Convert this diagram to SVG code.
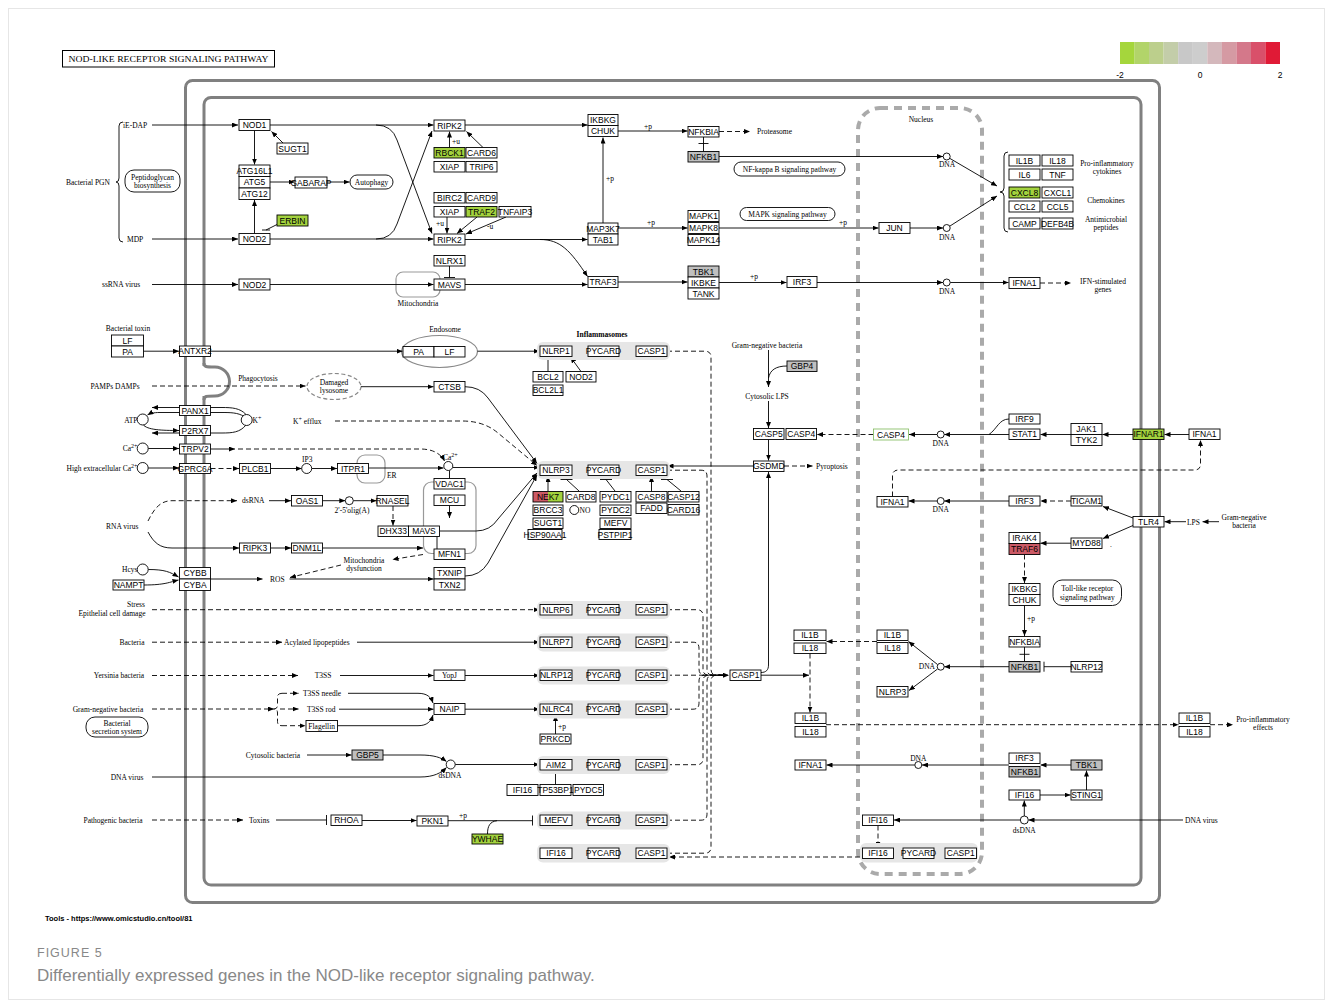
<svg xmlns="http://www.w3.org/2000/svg" width="1333" height="1008" viewBox="0 0 1333 1008">
<style>
.n rect{fill:#fff;stroke:#000;stroke-width:0.9}
.n text,.s{font-family:"Liberation Sans",Arial,sans-serif;font-size:8.5px;text-anchor:middle;fill:#000}
.n rect.g{fill:#a3d23e}
.n rect.r{fill:#cc5a66}
.n rect.y{fill:#bfbfbf}
.n rect.bg{fill:#e6e6e6;stroke:none}
.n rect.p{fill:#fff;stroke:#000;stroke-width:0.9}
.n circle{fill:#fff;stroke:#000;stroke-width:0.9}
.l,.n text.l{font-family:"Liberation Serif","Times New Roman",serif;font-size:7.5px;fill:#000;text-anchor:start}
.m,.n text.m{text-anchor:middle}
.e,.n text.e{text-anchor:end}
#connectors path{fill:none;stroke:#000;stroke-width:0.9}
#connectors path.d{stroke-dasharray:5 3}
#connectors path.a{marker-end:url(#ah)}
.mem{fill:none;stroke:#808080;stroke-width:3}
</style>
<defs>
<marker id="ah" viewBox="0 0 6 5" refX="6" refY="2.5" markerWidth="6" markerHeight="5" orient="auto" markerUnits="userSpaceOnUse"><path d="M0,0L6,2.5L0,5z" fill="#000"/></marker>
</defs>
<rect x="0" y="0" width="1333" height="1008" fill="#fff"/>
<rect x="8.5" y="8.5" width="1316" height="991" fill="none" stroke="#e6e6e6" stroke-width="1"/>

<!-- header -->
<g id="title">
<rect x="62.5" y="50.5" width="212" height="16.5" fill="#fff" stroke="#000" stroke-width="1"/>
<text x="168.5" y="62" class="l m" font-size="8.5" textLength="200" lengthAdjust="spacingAndGlyphs">NOD-LIKE RECEPTOR SIGNALING PATHWAY</text>
</g>
<g id="legend">
<rect x="1120" y="42" width="14.6" height="22" fill="#a5d63c"/>
<rect x="1134.5" y="42" width="14.6" height="22" fill="#b2d46a"/>
<rect x="1149" y="42" width="14.6" height="22" fill="#bccf8c"/>
<rect x="1163.6" y="42" width="14.6" height="22" fill="#c3cda9"/>
<rect x="1178.2" y="42" width="14.6" height="22" fill="#c8c8c8"/>
<rect x="1192.7" y="42" width="14.6" height="22" fill="#cdcdcd"/>
<rect x="1207.3" y="42" width="14.6" height="22" fill="#d4b8bc"/>
<rect x="1221.8" y="42" width="14.6" height="22" fill="#d59aa3"/>
<rect x="1236.4" y="42" width="14.6" height="22" fill="#d4788a"/>
<rect x="1251" y="42" width="14.6" height="22" fill="#d9506a"/>
<rect x="1265.5" y="42" width="14.5" height="22" fill="#e01a36"/>
<text x="1120" y="78" class="s" font-size="7.5">-2</text>
<text x="1200" y="78" class="s" font-size="7.5">0</text>
<text x="1280" y="78" class="s" font-size="7.5">2</text>
</g>

<!-- membranes and compartments -->
<g id="membrane">
<rect class="mem" x="185.5" y="80.5" width="974" height="822" rx="7"/>
<rect class="mem" x="204" y="97.5" width="937" height="787.5" rx="7"/>
<rect x="201" y="366" width="6" height="30" fill="#fff"/>
<path class="mem" d="M204,363 C204,367 206,367 215,367 A14.5,14.5 0 0 1 215,396 C206,396 204,396 204,400"/>
</g>
<g id="nucleus">
<rect x="858" y="108" width="124" height="766" rx="22" fill="none" stroke="#aaaaaa" stroke-width="4" stroke-dasharray="8 6"/>
<text x="921" y="122" class="l m">Nucleus</text>
</g>

<!-- compartment outlines -->
<g id="mito1"><rect x="396" y="272" width="44" height="25" rx="7" fill="none" stroke="#999" stroke-width="1.2"/></g>
<g id="endosome"><ellipse cx="439.5" cy="351.5" rx="38" ry="16" fill="none" stroke="#888" stroke-width="1.2"/></g>
<g id="lysosome"><ellipse cx="334" cy="386.5" rx="27" ry="13" fill="none" stroke="#888" stroke-width="1.2" stroke-dasharray="4 2.5"/></g>
<g id="er"><rect x="357" y="455" width="28" height="28" rx="8" fill="none" stroke="#999" stroke-width="1.2"/></g>
<g id="mito2"><rect x="423.5" y="482" width="52.5" height="71.5" rx="8" fill="none" stroke="#999" stroke-width="1.2"/></g>

<!-- connectors -->
<g id="connectors">
<path class="a" d="M152,125 H238"/>
<path class="a" d="M283,143 L271.5,131.5"/>
<path class="a" d="M254.5,130.5 V164.5"/>
<path class="a" d="M270,182 H294.5"/>
<path class="a" d="M327,182 H349.5"/>
<path class="a" d="M254.5,233.5 V200"/>
<path d="M278,224 L266,230 M262,230 H270"/>
<path class="a" d="M152,239 H238"/>
<path class="a" d="M270,125 H433.5"/>
<path class="a" d="M270,239 H433.5"/>
<path class="a" d="M376,125 Q392,125 397,140 L432,233.5"/>
<path class="a" d="M376,239 Q392,239 397,224 L432,131"/>
<path class="a" d="M449.5,147.5 V131.5"/>
<path class="a" d="M483,147.5 L466.5,131.5"/>
<path class="a" d="M447,217 V233.5"/>
<path class="a" d="M477,217 L457,233.5"/>
<path class="a" d="M506,217 L466,234"/>
<path d="M449.5,266 V277.5 M444,277.5 H455"/>
<path class="a" d="M152,284.5 H238"/>
<path class="a" d="M270,284.5 H433.5"/>
<path class="a" d="M465,125 H587.5"/>
<path class="a" d="M465,239.5 H587.5"/>
<path class="a" d="M603,223 V137.5"/>
<path class="a" d="M618,131 H687.5"/>
<path class="a" d="M540,239.5 C560,239.5 570,250 587.5,276.5"/>
<path class="a" d="M465,284.5 H587.5"/>
<path class="a" d="M618,228 H687.5"/>
<path class="a" d="M618,282 H687.5"/>
<path class="a d" d="M719,131.5 H750"/>
<path d="M703.5,137 V151.5 M698.5,143.5 H708.5"/>
<path class="a" d="M719,156.5 H943"/>
<path class="a" d="M719,228 H878.5"/>
<path class="a" d="M910,228 H943"/>
<path class="a" d="M719,282.5 H786.5"/>
<path class="a" d="M817,282.5 H943"/>
<path class="a" d="M950.2,282.5 H1008.5"/>
<path class="a" d="M950,158.5 L997,186"/>
<path class="a" d="M950,226 L997,196"/>
<path d="M1008,152 Q1004,152 1004,156 V188 Q1004,192 1000,192 Q1004,192 1004,196 V228 Q1004,232 1008,232"/>
<path class="a d" d="M1040,283 H1071"/>
<path d="M123,122 Q119,122 119,126 V178 Q119,182 116,182 Q119,182 119,186 V238 Q119,242 123,242"/>
<path class="a" d="M143.5,351.2 H179"/>
<path class="a" d="M210.5,351.2 H402.5"/>
<path class="a" d="M477.5,351.2 H539.5"/>
<path d="M572,351.2 H588 M619,351.2 H636"/>
<path d="M548,371.5 V357.5 M543,357.5 H553"/>
<path class="a" d="M581,371.5 L570.5,357"/>
<path class="a d" d="M152,386 H305.5"/>
<path class="a" d="M361,386.7 H433.5"/>
<path class="a" d="M465,386.7 Q480,386.7 488,398 L537,463.5"/>
<path class="a d" d="M335,421 H462 Q484,421 498,433 L537,465.5"/>
<path class="a" d="M246,414.5 C240,408 232,407.5 222,407.5 H152"/>
<path class="a" d="M244,416.5 C238,412.5 230,412.5 222,412.5 H160 C153,412.5 150,413.5 147.5,415"/>
<path class="a" d="M143,424.5 C147,430 162,430.5 179,430.5"/>
<path class="a" d="M246,425 C240,432.5 232,433 222,433 H152"/>
<path class="a" d="M148.2,448.5 H179"/>
<path class="a" d="M210.5,449 H235"/>
<path class="a d" d="M238,449 H420 Q438,449 444.5,461"/>
<path class="a" d="M148.2,468 H179"/>
<path class="a d" d="M210.5,468.5 H239"/>
<path class="a" d="M270.5,468.5 H301.7"/>
<path class="a" d="M311.7,468.5 H337"/>
<path class="a" d="M368.5,468 H443.5"/>
<path class="a" d="M453,467.5 H539.5"/>
<path d="M449.5,478.5 V470.5"/>
<path class="a" d="M449.5,505.5 V518"/>
<path class="a" d="M269,500.7 H291"/>
<path class="a" d="M322.5,500.7 H345.3"/>
<path class="a" d="M353.3,500.7 H376.5"/>
<path class="a d" d="M393,506 V525.5"/>
<path class="a" d="M439.5,531 H476 Q490,531 498,519 L537,473"/>
<path d="M437,536.5 V549"/>
<path class="a d" d="M148,521 C154,509 160,500.7 172,500.7 H237"/>
<path class="a" d="M148,532 C154,543 160,548 172,548 H239"/>
<path class="a" d="M270.5,548 H291"/>
<path class="a" d="M322.5,548 H423"/>
<path class="a d" d="M423,554.5 L392.5,559.5"/>
<path class="a d" d="M341,565 L290,577.5"/>
<path class="a" d="M148.2,569.5 C165,569.5 170,572 178.5,577"/>
<path class="a" d="M144,585 C165,585 170,582 178.5,580"/>
<path class="a" d="M210.5,579 H262.5"/>
<path class="a" d="M289.5,579 H433.5"/>
<path class="a" d="M465,576 Q480,576 488,563 L537,475"/>
<path d="M572,470.2 H588 M619,470.2 H636"/>
<path class="a" d="M548,491.5 V476"/>
<path d="M579,491 L566.5,479.5 M560.5,479.5 H572.5"/>
<path d="M615,491 L606,479.5 M600,479.5 H612"/>
<path class="a" d="M651.5,491.5 V476"/>
<path d="M681,491 L667,479.5 M661,479.5 H673"/>
<path class="a" d="M753.5,466 H667.5"/>
<path class="a" d="M768.5,350 V387"/>
<path d="M787,366 C776,366 770,370 768.5,378"/>
<path class="a" d="M768.5,401 V428"/>
<path class="a" d="M768.5,439.5 V460.5"/>
<path class="a d" d="M784,466 H812.5"/>
<path class="a d" d="M873.5,434.5 H817"/>
<path class="a" d="M937.2,434.5 H909"/>
<path class="a" d="M1009,434.5 H944.2"/>
<path d="M1009,419 C999,419 997,429 989,434.5"/>
<path class="a" d="M1071,434.5 H1040.5"/>
<path class="a" d="M1133,434.5 H1102.5"/>
<path class="a" d="M1189,434.5 H1164.5"/>
<path class="a d" d="M892.5,496.5 V476 Q892.5,470 898.5,470 H1194.5 Q1200.5,470 1200.5,464 V440"/>
<path class="a" d="M1009,501 H944.2"/>
<path class="a" d="M937.2,501 H908.5"/>
<path class="a d" d="M1071,501 H1040.5"/>
<path class="a" d="M1133,518 L1103,506.5"/>
<path class="a" d="M1133,525.5 L1103,538.5"/>
<path class="a" d="M1186,521.7 H1164.5"/>
<path class="a" d="M1219,521.7 H1202.5"/>
<path class="a" d="M1071,543.2 H1040.5"/>
<path class="a d" d="M1024.5,554.5 V583"/>
<path class="a" d="M1024.5,605.5 V636"/>
<path d="M1024.5,647 V661.5 M1019.5,654.3 H1029.5"/>
<path d="M1071,666.7 H1044 M1044,661.7 V671.7"/>
<path class="a" d="M1009,666.7 H944.2"/>
<path class="a" d="M937.5,664.5 L908.5,641.5"/>
<path class="a" d="M937.5,669 L909,690.5"/>
<path class="a d" d="M877,641.5 H826.5"/>
<path class="a d" d="M810,653.5 V712.5"/>
<path class="a" d="M761,675.2 H809"/>
<path class="a" d="M761,672.5 C766,672.5 768.5,670 768.5,665 V472"/>
<path class="a d" d="M826,724.7 H1178.5"/>
<path class="a d" d="M1210,724.7 H1233"/>
<path class="a" d="M1009,765 H922"/>
<path class="a" d="M914.8,765 H826.5"/>
<path class="a" d="M1071,765 H1040.5"/>
<path class="a" d="M1040,795 H1070.5"/>
<path class="a" d="M1086.5,790 V770.5"/>
<path class="a" d="M1024.3,816 V800.5"/>
<path class="a" d="M1183,820 H1028.5"/>
<path class="a" d="M1020.3,820 H894"/>
<path class="a d" d="M878,825.5 V847.5"/>
<path d="M893.5,853.2 H903 M934,853.2 H945"/>
<path class="a d" d="M152,609.7 H539.5"/>
<path class="a d" d="M152,642.2 H282"/>
<path class="a" d="M357,642.2 H539.5"/>
<path class="a d" d="M152,675.5 H298"/>
<path class="a" d="M340,675.5 H433.5"/>
<path class="a" d="M465,675.5 H539.5"/>
<path class="a d" d="M152,709 H274"/>
<path class="d" d="M282,693.3 Q277.5,693.3 277.5,697 V705 Q277.5,709 274,709 Q277.5,709 277.5,713 V721.5 Q277.5,725.7 282,725.7"/>
<path class="a d" d="M282,693.3 H298.5"/>
<path class="a d" d="M280,709 H298.5"/>
<path class="a d" d="M282,725.7 H305.5"/>
<path class="a" d="M348,693.3 H418 C427,693.3 431,697 433,703"/>
<path class="a" d="M339,709.2 H433.5"/>
<path class="a" d="M338,725.7 H418 C427,725.7 431,721.5 433,715"/>
<path class="a" d="M465,709.2 H539.5"/>
<path class="a" d="M555.5,734 V715"/>
<path class="a" d="M307,755 H351.5"/>
<path class="a" d="M383,755 H420 C434,755 441,757.5 446.5,761.5"/>
<path class="a" d="M152,777 H420 C434,777 441,773 446.5,767.5"/>
<path class="a" d="M455.2,764.5 H539.5"/>
<path d="M555.5,784.5 V772.5 M550,772.5 H561"/>
<path class="a d" d="M152,820 H243"/>
<path d="M276,820 H326.5 M326.5,815 V825"/>
<path class="a" d="M361.5,820.5 H416.5"/>
<path d="M448,820.7 H532.5 M532.5,815.5 V825.5"/>
<path d="M487.5,834 C487.5,826 490,821.5 497,820.7"/>
<path d="M572,609.7 H588 M619,609.7 H636 M572,642.2 H588 M619,642.2 H636 M572,675.2 H588 M619,675.2 H636 M572,709.2 H588 M619,709.2 H636 M572,764.7 H588 M619,764.7 H636 M572,820.2 H588 M619,820.2 H636 M572,853.2 H588 M619,853.2 H636"/>
<path class="d" d="M667,351.2 H705 Q711,351.2 711,357 V669 Q711,675.2 717,675.2 H726"/>
<path class="d" d="M667,470.2 H701 Q707,470.2 707,476 V669 Q707,675.2 713,675.2 H726"/>
<path class="d" d="M667,609.7 H697 Q703,609.7 703,615.7 V669 Q703,675.2 709,675.2 H726"/>
<path class="d" d="M667,642.2 H693 Q699,642.2 699,648.2 V669 Q699,675.2 705,675.2 H726"/>
<path class="a d" d="M667,675.2 H729"/>
<path class="d" d="M667,709.2 H693 Q699,709.2 699,703.2 V681 Q699,675.2 705,675.2 H726"/>
<path class="d" d="M667,764.7 H697 Q703,764.7 703,758.7 V681 Q703,675.2 709,675.2 H726"/>
<path class="d" d="M667,820.2 H701 Q707,820.2 707,814.2 V681 Q707,675.2 713,675.2 H726"/>
<path class="d" d="M667,853.2 H705 Q711,853.2 711,847.2 V681 Q711,675.2 717,675.2 H726"/>
<path class="a d" d="M860,857 H669"/>
</g>

<!-- free labels -->
<g id="labels">
<text class="l" x="123" y="127.5">iE-DAP</text>
<text class="l" x="66" y="184.5">Bacterial PGN</text>
<text class="l" x="127" y="241.5">MDP</text>
<text class="l" x="102" y="287">ssRNA virus</text>
<text class="l m" x="418" y="305.5">Mitochondria</text>
<text class="l" x="757" y="134">Proteasome</text>
<text class="l m" x="947" y="167">DNA</text>
<text class="l m" x="947" y="239.5">DNA</text>
<text class="l m" x="947" y="293.5">DNA</text>
<text class="l m" x="1107" y="166">Pro-inflammatory</text>
<text class="l m" x="1107" y="174">cytokines</text>
<text class="l m" x="1106" y="202.5">Chemokines</text>
<text class="l m" x="1106" y="222">Antimicrobial</text>
<text class="l m" x="1106" y="230">peptides</text>
<text class="l m" x="1103" y="283.5">IFN-stimulated</text>
<text class="l m" x="1103" y="291.5">genes</text>
<text class="l m" x="128" y="331">Bacterial toxin</text>
<text class="l m" x="445" y="331.5">Endosome</text>
<text class="l m" x="602" y="336.5" font-weight="bold">Inflammasomes</text>
<text class="l m" x="258" y="380.5">Phagocytosis</text>
<text class="l m" x="115" y="388.5">PAMPs DAMPs</text>
<text class="l m" x="334" y="384.5">Damaged</text>
<text class="l m" x="334" y="392.5">lysosome</text>
<text class="l e" x="137.5" y="422.5">ATP</text>
<text class="l" x="252.5" y="423">K<tspan dy="-3" font-size="6">+</tspan></text>
<text class="l" x="293" y="423.5">K<tspan dy="-3" font-size="6">+</tspan><tspan dy="3"> efflux</tspan></text>
<text class="l e" x="137.5" y="451">Ca<tspan dy="-3" font-size="6">2+</tspan></text>
<text class="l e" x="137.5" y="470.5">High extracellular Ca<tspan dy="-3" font-size="6">2+</tspan></text>
<text class="l" x="302" y="462">IP3</text>
<text class="l" x="387" y="477.5">ER</text>
<text class="l" x="443" y="460">Ca<tspan dy="-3" font-size="6">2+</tspan></text>
<text class="l" x="242" y="503">dsRNA</text>
<text class="l m" x="352" y="512.5">2'-5'olig(A)</text>
<text class="l" x="579.5" y="513">NO</text>
<text class="l" x="106" y="529">RNA virus</text>
<text class="l m" x="364" y="563">Mitochondria</text>
<text class="l m" x="364" y="571">dysfunction</text>
<text class="l e" x="137.5" y="572">Hcys</text>
<text class="l" x="270" y="581.5">ROS</text>
<text class="l m" x="136" y="607">Stress</text>
<text class="l m" x="112" y="616">Epithelial cell damage</text>
<text class="l m" x="767" y="347.5">Gram-negative bacteria</text>
<text class="l m" x="767" y="398.5">Cytosolic LPS</text>
<text class="l" x="816" y="469">Pyroptosis</text>
<text class="l m" x="940.7" y="445.5">DNA</text>
<text class="l m" x="940.7" y="512">DNA</text>
<text class="l" x="1187" y="524.5">LPS</text>
<text class="l m" x="1244" y="519.5">Gram-negative</text>
<text class="l m" x="1244" y="527.5">bacteria</text>
<text class="l" x="1110" y="547">.</text>
<text class="l m" x="132" y="644.5">Bacteria</text>
<text class="l" x="284" y="644.5">Acylated lipopeptides</text>
<text class="l m" x="119" y="678">Yersinia bacteria</text>
<text class="l m" x="323" y="678">T3SS</text>
<text class="l m" x="108" y="711.5">Gram-negative bacteria</text>
<text class="l" x="303" y="695.8">T3SS needle</text>
<text class="l" x="307" y="711.7">T3SS rod</text>
<text class="l m" x="273" y="757.5">Cytosolic bacteria</text>
<text class="l m" x="450" y="777.5">dsDNA</text>
<text class="l m" x="127" y="779.5">DNA virus</text>
<text class="l m" x="113" y="822.5">Pathogenic bacteria</text>
<text class="l" x="249" y="822.5">Toxins</text>
<text class="l e" x="935" y="669.2">DNA</text>
<text class="l m" x="918.3" y="760.5">DNA</text>
<text class="l m" x="1024.3" y="832.5">dsDNA</text>
<text class="l" x="1185" y="822.5">DNA virus</text>
<text class="l m" x="1263" y="722">Pro-inflammatory</text>
<text class="l m" x="1263" y="730">effects</text>
<text class="l" x="606" y="180.5">+p</text>
<text class="l" x="644" y="128.5">+p</text>
<text class="l" x="647" y="224.5">+p</text>
<text class="l" x="839" y="224.5">+p</text>
<text class="l" x="750" y="279">+p</text>
<text class="l" x="1027" y="621">+p</text>
<text class="l" x="558" y="729">+p</text>
<text class="l" x="459" y="818">+p</text>
<text class="l" x="452" y="144">+u</text>
<text class="l" x="436" y="226">+u</text>
<text class="l" x="487" y="229">-u</text>
</g>

<!-- pathway map pills -->
<g id="map_peptidoglycan" class="n"><rect class="p" x="125" y="170" width="55" height="22" rx="9"/><text class="l m" x="152.5" y="179.5">Peptidoglycan</text><text class="l m" x="152.5" y="188">biosynthesis</text></g>
<g id="map_autophagy" class="n"><rect class="p" x="350" y="175" width="43" height="14" rx="7"/><text class="l m" x="371.5" y="184.5">Autophagy</text></g>
<g id="map_nfkb" class="n"><rect class="p" x="734" y="162" width="111" height="14" rx="7"/><text class="l m" x="789.5" y="171.5">NF-kappa B signaling pathway</text></g>
<g id="map_mapk" class="n"><rect class="p" x="740" y="207.5" width="95" height="13" rx="6.5"/><text class="l m" x="787.5" y="216.5">MAPK signaling pathway</text></g>
<g id="map_tlr" class="n"><rect class="p" x="1053" y="580" width="68.5" height="25.5" rx="9"/><text class="l m" x="1087.3" y="591">Toll-like receptor</text><text class="l m" x="1087.3" y="599.5">signaling pathway</text></g>
<g id="map_secretion" class="n"><rect class="p" x="86" y="717" width="62" height="20" rx="9"/><text class="l m" x="117" y="725.5">Bacterial</text><text class="l m" x="117" y="733.5">secretion system</text></g>

<!-- compounds -->
<g class="n">
<g id="c_dna1"><circle cx="946.7" cy="156.5" r="3.5"/></g>
<g id="c_dna2"><circle cx="946.7" cy="228" r="3.5"/></g>
<g id="c_dna3"><circle cx="946.7" cy="282.5" r="3.5"/></g>
<g id="c_dna4"><circle cx="940.7" cy="434.5" r="3.5"/></g>
<g id="c_dna5"><circle cx="940.7" cy="501" r="3.5"/></g>
<g id="c_dna6"><circle cx="940.7" cy="666.7" r="3.5"/></g>
<g id="c_dna7"><circle cx="918.3" cy="765" r="3.5"/></g>
<g id="c_dsdna1"><circle cx="1024.3" cy="820" r="4"/></g>
<g id="c_dsdna2"><circle cx="450.7" cy="764.5" r="4.5"/></g>
<g id="c_atp"><circle cx="142.7" cy="419.5" r="5.5"/></g>
<g id="c_k"><circle cx="246.7" cy="420" r="5.5"/></g>
<g id="c_ca1"><circle cx="142.7" cy="448.5" r="5.5"/></g>
<g id="c_ca2"><circle cx="142.7" cy="468" r="5.5"/></g>
<g id="c_ip3"><circle cx="306.7" cy="468.5" r="5"/></g>
<g id="c_ca3"><circle cx="448.3" cy="466" r="4.5"/></g>
<g id="c_oligo"><circle cx="349.3" cy="500.7" r="4"/></g>
<g id="c_no"><circle cx="574.3" cy="510" r="4.5"/></g>
<g id="c_hcys"><circle cx="142.7" cy="569.5" r="5.5"/></g>
</g>

<!-- gene nodes -->
<g id="NOD1" class="n"><rect x="239" y="119.5" width="31" height="11"/><text x="254.5" y="128">NOD1</text></g>
<g id="SUGT1_a" class="n"><rect x="277" y="143" width="31" height="11"/><text x="292.5" y="151.5">SUGT1</text></g>
<g id="ATG" class="n"><rect x="239" y="165" width="31" height="11.5"/><rect x="239" y="176.5" width="31" height="11.5"/><rect x="239" y="188" width="31" height="11.5"/><text x="254.5" y="173.7">ATG16L1</text><text x="254.5" y="185.2">ATG5</text><text x="254.5" y="196.7">ATG12</text></g>
<g id="GABARAP" class="n"><rect x="295" y="177" width="32" height="11"/><text x="311" y="185.5">GABARAP</text></g>
<g id="ERBIN" class="n"><rect class="g" x="277" y="215" width="31" height="11"/><text x="292.5" y="223.5">ERBIN</text></g>
<g id="NOD2_a" class="n"><rect x="239" y="233.5" width="31" height="11"/><text x="254.5" y="242">NOD2</text></g>
<g id="NOD2_b" class="n"><rect x="239" y="279" width="31" height="11"/><text x="254.5" y="287.5">NOD2</text></g>
<g id="RIPK2_a" class="n"><rect x="434" y="120" width="31" height="11"/><text x="449.5" y="128.5">RIPK2</text></g>
<g id="RBCK1_grp" class="n"><rect class="g" x="434" y="147.5" width="31" height="10.5"/><rect x="466" y="147.5" width="31" height="10.5"/><rect x="434" y="161.5" width="31" height="10.5"/><rect x="466" y="161.5" width="31" height="10.5"/><text x="449.5" y="155.7">RBCK1</text><text x="481.5" y="155.7">CARD6</text><text x="449.5" y="169.7">XIAP</text><text x="481.5" y="169.7">TRIP6</text></g>
<g id="BIRC2_grp" class="n"><rect x="434" y="192.5" width="31" height="10.5"/><rect x="466" y="192.5" width="31" height="10.5"/><rect x="434" y="206.5" width="31" height="10.5"/><rect class="g" x="466" y="206.5" width="31" height="10.5"/><rect x="499" y="206.5" width="32" height="10.5"/><text x="449.5" y="200.7">BIRC2</text><text x="481.5" y="200.7">CARD9</text><text x="449.5" y="214.7">XIAP</text><text x="481.5" y="214.7">TRAF2</text><text x="515" y="214.7">TNFAIP3</text></g>
<g id="RIPK2_b" class="n"><rect x="434" y="234" width="31" height="11"/><text x="449.5" y="242.5">RIPK2</text></g>
<g id="NLRX1" class="n"><rect x="434" y="255.5" width="31" height="10.5"/><text x="449.5" y="263.7">NLRX1</text></g>
<g id="MAVS_a" class="n"><rect x="434" y="279" width="31" height="11"/><text x="449.5" y="287.5">MAVS</text></g>
<g id="IKBKG_a" class="n"><rect x="588" y="114.5" width="30" height="11"/><rect x="588" y="125.5" width="30" height="11"/><text x="603" y="123">IKBKG</text><text x="603" y="134">CHUK</text></g>
<g id="MAP3K7" class="n"><rect x="588" y="223" width="30" height="11"/><rect x="588" y="234" width="30" height="11"/><text x="603" y="231.5">MAP3K7</text><text x="603" y="242.5">TAB1</text></g>
<g id="TRAF3" class="n"><rect x="588" y="276.5" width="30" height="11"/><text x="603" y="285">TRAF3</text></g>
<g id="NFKBIA_a" class="n"><rect x="688" y="126.5" width="31" height="10.5"/><text x="703.5" y="134.7">NFKBIA</text></g>
<g id="NFKB1_a" class="n"><rect class="y" x="688" y="151.5" width="31" height="10.5"/><text x="703.5" y="159.7">NFKB1</text></g>
<g id="MAPK" class="n"><rect x="688" y="210.5" width="31" height="11"/><rect x="688" y="222.5" width="31" height="11"/><rect x="688" y="234.5" width="31" height="11"/><text x="703.5" y="219">MAPK1</text><text x="703.5" y="231">MAPK8</text><text x="703.5" y="243">MAPK14</text></g>
<g id="JUN" class="n"><rect x="879" y="222.5" width="31" height="11"/><text x="894.5" y="231">JUN</text></g>
<g id="TBK1_a" class="n"><rect class="y" x="688" y="266" width="31" height="11"/><rect x="688" y="277" width="31" height="11"/><rect x="688" y="288" width="31" height="11"/><text x="703.5" y="274.5">TBK1</text><text x="703.5" y="285.5">IKBKE</text><text x="703.5" y="296.5">TANK</text></g>
<g id="IRF3_a" class="n"><rect x="787" y="276.5" width="30" height="11"/><text x="802" y="285">IRF3</text></g>
<g id="cytokines" class="n"><rect x="1009" y="155" width="31" height="11"/><rect x="1042" y="155" width="31" height="11"/><rect x="1009" y="169" width="31" height="11"/><rect x="1042" y="169" width="31" height="11"/><rect class="g" x="1009" y="187" width="31" height="11"/><rect x="1042" y="187" width="31" height="11"/><rect x="1009" y="201" width="31" height="11"/><rect x="1042" y="201" width="31" height="11"/><rect x="1009" y="218" width="31" height="11"/><rect x="1042" y="218" width="31" height="11"/><text x="1024.5" y="163.5">IL1B</text><text x="1057.5" y="163.5">IL18</text><text x="1024.5" y="177.5">IL6</text><text x="1057.5" y="177.5">TNF</text><text x="1024.5" y="195.5">CXCL8</text><text x="1057.5" y="195.5">CXCL1</text><text x="1024.5" y="209.5">CCL2</text><text x="1057.5" y="209.5">CCL5</text><text x="1024.5" y="226.5">CAMP</text><text x="1057.5" y="226.5">DEFB4B</text></g>
<g id="IFNA1_a" class="n"><rect x="1009" y="277.5" width="31" height="11"/><text x="1024.5" y="286">IFNA1</text></g>
<g id="LFPA" class="n"><rect x="111.5" y="335" width="32" height="11"/><rect x="111.5" y="346" width="32" height="11"/><text x="127.5" y="343.5">LF</text><text x="127.5" y="354.5">PA</text></g>
<g id="ANTXR2" class="n"><rect x="179.5" y="346" width="31" height="10.5"/><text x="195" y="354.2">ANTXR2</text></g>
<g id="PALF" class="n"><rect x="403" y="346.5" width="31" height="10.5"/><rect x="434" y="346.5" width="31" height="10.5"/><text x="418.5" y="354.7">PA</text><text x="449.5" y="354.7">LF</text></g>
<g id="inf_NLRP1" class="n"><rect class="bg" x="537" y="342" width="133" height="18" rx="6"/><rect x="540" y="346" width="32" height="10.5"/><rect x="588" y="346" width="31" height="10.5"/><rect x="636" y="346" width="31" height="10.5"/><text x="556" y="354.2">NLRP1</text><text x="603.5" y="354.2">PYCARD</text><text x="651.5" y="354.2">CASP1</text></g>
<g id="BCL2" class="n"><rect x="533" y="371.5" width="30" height="10.5"/><rect x="533" y="385" width="30" height="10.5"/><text x="548" y="379.7">BCL2</text><text x="548" y="393.2">BCL2L1</text></g>
<g id="NOD2_c" class="n"><rect x="566" y="371.5" width="30" height="10.5"/><text x="581" y="379.7">NOD2</text></g>
<g id="CTSB" class="n"><rect x="434" y="381.5" width="31" height="10.5"/><text x="449.5" y="389.7">CTSB</text></g>
<g id="PANX1" class="n"><rect x="179.5" y="405.5" width="31" height="10"/><text x="195" y="413.5">PANX1</text></g>
<g id="P2RX7" class="n"><rect x="179.5" y="425.5" width="31" height="10"/><text x="195" y="433.5">P2RX7</text></g>
<g id="TRPV2" class="n"><rect x="179.5" y="444" width="31" height="10"/><text x="195" y="452">TRPV2</text></g>
<g id="GPRC6A" class="n"><rect x="179.5" y="463.5" width="31" height="10"/><text x="195" y="471.5">GPRC6A</text></g>
<g id="PLCB1" class="n"><rect x="239.5" y="463.5" width="31" height="10"/><text x="255" y="471.5">PLCB1</text></g>
<g id="ITPR1" class="n"><rect x="337.5" y="463.5" width="31" height="10"/><text x="353" y="471.5">ITPR1</text></g>
<g id="VDAC1" class="n"><rect x="434" y="478.5" width="31" height="10.5"/><text x="449.5" y="486.7">VDAC1</text></g>
<g id="MCU" class="n"><rect x="434" y="495" width="31" height="10.5"/><text x="449.5" y="503.2">MCU</text></g>
<g id="inf_NLRP3" class="n"><rect class="bg" x="537" y="461" width="133" height="18" rx="6"/><rect x="540" y="465" width="32" height="10.5"/><rect x="588" y="465" width="31" height="10.5"/><rect x="636" y="465" width="31" height="10.5"/><text x="556" y="473.2">NLRP3</text><text x="603.5" y="473.2">PYCARD</text><text x="651.5" y="473.2">CASP1</text></g>
<g id="NEK7" class="n"><rect class="r" x="533" y="491.5" width="15" height="10.5" style="stroke:none"/><rect class="g" x="548" y="491.5" width="15" height="10.5" style="stroke:none"/><rect x="533" y="491.5" width="30" height="10.5" style="fill:none"/><text x="548" y="499.7">NEK7</text></g>
<g id="CARD8" class="n"><rect x="566" y="491.5" width="30" height="10.5"/><text x="581" y="499.7">CARD8</text></g>
<g id="BRCC3" class="n"><rect x="533" y="505" width="30" height="10.5"/><rect x="533" y="518" width="30" height="10.5"/><rect x="528" y="529.5" width="34" height="10"/><text x="548" y="513.2">BRCC3</text><text x="548" y="526.2">SUGT1</text><text x="545" y="537.5">HSP90AA1</text></g>
<g id="PYDC" class="n"><rect x="600" y="491.5" width="31" height="10.5"/><rect x="600" y="505" width="31" height="10.5"/><rect x="600" y="518" width="31" height="10.5"/><rect x="599" y="529.5" width="32" height="10"/><text x="615.5" y="499.7">PYDC1</text><text x="615.5" y="513.2">PYDC2</text><text x="615.5" y="526.2">MEFV</text><text x="615" y="537.5">PSTPIP1</text></g>
<g id="CASP8" class="n"><rect x="636" y="491.5" width="31" height="10.5"/><rect x="636" y="503" width="31" height="10.5"/><text x="651.5" y="499.7">CASP8</text><text x="651.5" y="511.2">FADD</text></g>
<g id="CASP12" class="n"><rect x="668" y="491.5" width="31" height="10.5"/><rect x="668" y="504.5" width="31" height="10.5"/><text x="683.5" y="499.7">CASP12</text><text x="683.5" y="512.7">CARD16</text></g>
<g id="OAS1" class="n"><rect x="291.5" y="495.5" width="31" height="10.5"/><text x="307" y="503.7">OAS1</text></g>
<g id="RNASEL" class="n"><rect x="377" y="495.5" width="31" height="10.5"/><text x="392.5" y="503.7">RNASEL</text></g>
<g id="DHX33" class="n"><rect x="378" y="526" width="30.5" height="10.5"/><rect x="408.5" y="526" width="31" height="10.5"/><text x="393.2" y="534.2">DHX33</text><text x="424" y="534.2">MAVS</text></g>
<g id="MFN1" class="n"><rect x="434" y="549" width="31" height="10.5"/><text x="449.5" y="557.2">MFN1</text></g>
<g id="RIPK3" class="n"><rect x="239.5" y="543" width="31" height="10"/><text x="255" y="551">RIPK3</text></g>
<g id="DNM1L" class="n"><rect x="291.5" y="543" width="31" height="10"/><text x="307" y="551">DNM1L</text></g>
<g id="NAMPT" class="n"><rect x="113" y="580" width="31" height="10"/><text x="128.5" y="588">NAMPT</text></g>
<g id="CYBB" class="n"><rect x="179.5" y="567.5" width="31" height="11.5"/><rect x="179.5" y="579" width="31" height="11.5"/><text x="195" y="576.2">CYBB</text><text x="195" y="587.7">CYBA</text></g>
<g id="TXNIP" class="n"><rect x="434" y="567.5" width="31" height="11.5"/><rect x="434" y="579" width="31" height="11"/><text x="449.5" y="576.2">TXNIP</text><text x="449.5" y="587.5">TXN2</text></g>
<g id="GBP4" class="n"><rect class="y" x="787" y="361" width="30" height="10.5"/><text x="802" y="369.2">GBP4</text></g>
<g id="CASP5" class="n"><rect x="753.5" y="428.5" width="30.5" height="11"/><rect x="786" y="428.5" width="30.5" height="11"/><text x="768.7" y="437">CASP5</text><text x="801.2" y="437">CASP4</text></g>
<g id="GSDMD" class="n"><rect x="753.5" y="461" width="30.5" height="10.5"/><text x="768.7" y="469.2">GSDMD</text></g>
<g id="CASP4_n" class="n"><rect x="873.5" y="429" width="35" height="11" style="stroke:#8cc06a"/><text x="891" y="437.5">CASP4</text></g>
<g id="IRF9" class="n"><rect x="1009" y="414" width="31" height="10"/><text x="1024.5" y="422">IRF9</text></g>
<g id="STAT1" class="n"><rect x="1009" y="429" width="31" height="10.5"/><text x="1024.5" y="437.2">STAT1</text></g>
<g id="JAK1" class="n"><rect x="1071" y="423.5" width="31" height="11"/><rect x="1071" y="434.5" width="31" height="11"/><text x="1086.5" y="432">JAK1</text><text x="1086.5" y="443">TYK2</text></g>
<g id="IFNAR1" class="n"><rect class="g" x="1133" y="429" width="31" height="10.5"/><text x="1148.5" y="437.2">IFNAR1</text></g>
<g id="IFNA1_b" class="n"><rect x="1189" y="429" width="31" height="10.5"/><text x="1204.5" y="437.2">IFNA1</text></g>
<g id="IFNA1_n" class="n"><rect x="877" y="496.5" width="31" height="10.5"/><text x="892.5" y="504.7">IFNA1</text></g>
<g id="IRF3_b" class="n"><rect x="1009" y="496" width="31" height="10"/><text x="1024.5" y="504">IRF3</text></g>
<g id="TICAM1" class="n"><rect x="1071" y="496" width="31" height="10"/><text x="1086.5" y="504">TICAM1</text></g>
<g id="TLR4" class="n"><rect x="1133" y="516.5" width="31" height="10.5"/><text x="1148.5" y="524.7">TLR4</text></g>
<g id="MYD88" class="n"><rect x="1071" y="538" width="31" height="10.5"/><text x="1086.5" y="546.2">MYD88</text></g>
<g id="IRAK4" class="n"><rect x="1009" y="532.5" width="31" height="11"/><rect class="r" x="1009" y="543.5" width="31" height="11"/><text x="1024.5" y="541">IRAK4</text><text x="1024.5" y="552">TRAF6</text></g>
<g id="IKBKG_b" class="n"><rect x="1009" y="583.5" width="31" height="11"/><rect x="1009" y="594.5" width="31" height="11"/><text x="1024.5" y="592">IKBKG</text><text x="1024.5" y="603">CHUK</text></g>
<g id="NFKBIA_b" class="n"><rect x="1009" y="636.5" width="31" height="10.5"/><text x="1024.5" y="644.7">NFKBIA</text></g>
<g id="NFKB1_b" class="n"><rect class="y" x="1009" y="661.5" width="31" height="10.5"/><text x="1024.5" y="669.7">NFKB1</text></g>
<g id="NLRP12_r" class="n"><rect x="1071" y="661.5" width="31" height="10.5"/><text x="1086.5" y="669.7">NLRP12</text></g>
<g id="inf_NLRP6" class="n"><rect class="bg" x="537" y="601" width="133" height="18" rx="6"/><rect x="540" y="604.5" width="32" height="10.5"/><rect x="588" y="604.5" width="31" height="10.5"/><rect x="636" y="604.5" width="31" height="10.5"/><text x="556" y="612.7">NLRP6</text><text x="603.5" y="612.7">PYCARD</text><text x="651.5" y="612.7">CASP1</text></g>
<g id="inf_NLRP7" class="n"><rect class="bg" x="537" y="633.5" width="133" height="18" rx="6"/><rect x="540" y="637" width="32" height="10.5"/><rect x="588" y="637" width="31" height="10.5"/><rect x="636" y="637" width="31" height="10.5"/><text x="556" y="645.2">NLRP7</text><text x="603.5" y="645.2">PYCARD</text><text x="651.5" y="645.2">CASP1</text></g>
<g id="inf_NLRP12" class="n"><rect class="bg" x="537" y="666.5" width="133" height="18" rx="6"/><rect x="540" y="670" width="32" height="10.5"/><rect x="588" y="670" width="31" height="10.5"/><rect x="636" y="670" width="31" height="10.5"/><text x="556" y="678.2">NLRP12</text><text x="603.5" y="678.2">PYCARD</text><text x="651.5" y="678.2">CASP1</text></g>
<g id="inf_NLRC4" class="n"><rect class="bg" x="537" y="700.5" width="133" height="18" rx="6"/><rect x="540" y="704" width="32" height="10.5"/><rect x="588" y="704" width="31" height="10.5"/><rect x="636" y="704" width="31" height="10.5"/><text x="556" y="712.2">NLRC4</text><text x="603.5" y="712.2">PYCARD</text><text x="651.5" y="712.2">CASP1</text></g>
<g id="inf_AIM2" class="n"><rect class="bg" x="537" y="756" width="133" height="18" rx="6"/><rect x="540" y="759.5" width="32" height="10.5"/><rect x="588" y="759.5" width="31" height="10.5"/><rect x="636" y="759.5" width="31" height="10.5"/><text x="556" y="767.7">AIM2</text><text x="603.5" y="767.7">PYCARD</text><text x="651.5" y="767.7">CASP1</text></g>
<g id="inf_MEFV" class="n"><rect class="bg" x="537" y="811.5" width="133" height="18" rx="6"/><rect x="540" y="815" width="32" height="10.5"/><rect x="588" y="815" width="31" height="10.5"/><rect x="636" y="815" width="31" height="10.5"/><text x="556" y="823.2">MEFV</text><text x="603.5" y="823.2">PYCARD</text><text x="651.5" y="823.2">CASP1</text></g>
<g id="inf_IFI16" class="n"><rect class="bg" x="537" y="844" width="133" height="18.5" rx="6"/><rect x="540" y="848" width="32" height="10.5"/><rect x="588" y="848" width="31" height="10.5"/><rect x="636" y="848" width="31" height="10.5"/><text x="556" y="856.2">IFI16</text><text x="603.5" y="856.2">PYCARD</text><text x="651.5" y="856.2">CASP1</text></g>
<g id="PRKCD" class="n"><rect x="540" y="734" width="31" height="10"/><text x="555.5" y="742">PRKCD</text></g>
<g id="YopJ" class="n"><rect x="434" y="670" width="31" height="10.5"/><text class="l m" x="449.5" y="678.2">YopJ</text></g>
<g id="NAIP" class="n"><rect x="434" y="703.5" width="31" height="11"/><text x="449.5" y="712">NAIP</text></g>
<g id="Flagellin" class="n"><rect x="306" y="720.5" width="31.5" height="11"/><text class="l m" x="321.7" y="728.7">Flagellin</text></g>
<g id="GBP5" class="n"><rect class="y" x="352" y="750" width="31" height="10"/><text x="367.5" y="758">GBP5</text></g>
<g id="IFI16_grp" class="n"><rect x="507" y="784.5" width="31" height="11"/><rect x="540" y="784.5" width="31" height="11"/><rect x="573" y="784.5" width="30.5" height="11"/><text x="522.5" y="793">IFI16</text><text x="555.5" y="793">TP53BP1</text><text x="588.2" y="793">PYDC5</text></g>
<g id="RHOA" class="n"><rect x="331" y="815" width="31" height="10.5"/><text x="346.5" y="823.2">RHOA</text></g>
<g id="PKN1" class="n"><rect x="417" y="816" width="31" height="10"/><text x="432.5" y="824">PKN1</text></g>
<g id="YWHAE" class="n"><rect class="g" x="472" y="834" width="31" height="10"/><text x="487.5" y="842">YWHAE</text></g>
<g id="CASP1_m" class="n"><rect x="730" y="670" width="31" height="10.5"/><text x="745.5" y="678.2">CASP1</text></g>
<g id="IL1B_c1" class="n"><rect x="794" y="630" width="32" height="10.5"/><rect x="794" y="643" width="32" height="10.5"/><text x="810" y="638.2">IL1B</text><text x="810" y="651.2">IL18</text></g>
<g id="IL1B_n" class="n"><rect x="877" y="630" width="31" height="10.5"/><rect x="877" y="642.5" width="31" height="11"/><text x="892.5" y="638.2">IL1B</text><text x="892.5" y="651">IL18</text></g>
<g id="NLRP3_n" class="n"><rect x="877" y="686.5" width="31" height="10.5"/><text x="892.5" y="694.7">NLRP3</text></g>
<g id="IL1B_c2" class="n"><rect x="795" y="713" width="31" height="10.5"/><rect x="795" y="726.5" width="31" height="10.5"/><text x="810.5" y="721.2">IL1B</text><text x="810.5" y="734.7">IL18</text></g>
<g id="IL1B_ext" class="n"><rect x="1179" y="713" width="31" height="10.5"/><rect x="1179" y="726.5" width="31" height="10.5"/><text x="1194.5" y="721.2">IL1B</text><text x="1194.5" y="734.7">IL18</text></g>
<g id="IFNA1_c" class="n"><rect x="795" y="760" width="31" height="10"/><text x="810.5" y="768">IFNA1</text></g>
<g id="IRF3_c" class="n"><rect x="1009" y="753" width="31" height="10.5"/><rect class="y" x="1009" y="766.5" width="31" height="10.5"/><text x="1024.5" y="761.2">IRF3</text><text x="1024.5" y="774.7">NFKB1</text></g>
<g id="TBK1_b" class="n"><rect class="y" x="1071" y="760" width="31" height="10"/><text x="1086.5" y="768">TBK1</text></g>
<g id="IFI16_r" class="n"><rect x="1009" y="790" width="31" height="10"/><text x="1024.5" y="798">IFI16</text></g>
<g id="STING1" class="n"><rect x="1071" y="790" width="31" height="10"/><text x="1086.5" y="798">STING1</text></g>
<g id="IFI16_n" class="n"><rect x="862.5" y="815" width="31" height="10.5"/><text x="878" y="823.2">IFI16</text></g>
<g id="inf_IFI16_n" class="n"><rect class="bg" x="860" y="843" width="118" height="19.5" rx="6"/><rect x="862.5" y="848" width="31" height="10.5"/><rect x="903" y="848" width="31" height="10.5"/><rect x="945" y="848" width="31.5" height="10.5"/><text x="878" y="856.2">IFI16</text><text x="918.5" y="856.2">PYCARD</text><text x="960.7" y="856.2">CASP1</text></g>

<!-- footer -->
<g id="footer">
<text x="45" y="921" font-family="Liberation Sans, Arial, sans-serif" font-size="7.5" font-weight="bold" fill="#000">Tools - https://www.omicstudio.cn/tool/81</text>
<text x="37" y="957" font-family="Liberation Sans, Arial, sans-serif" font-size="12.5" letter-spacing="1" fill="#888">FIGURE 5</text>
<text x="37" y="981" font-family="Liberation Sans, Arial, sans-serif" font-size="17" fill="#888">Differentially expressed genes in the NOD-like receptor signaling pathway.</text>
</g>
</svg>
